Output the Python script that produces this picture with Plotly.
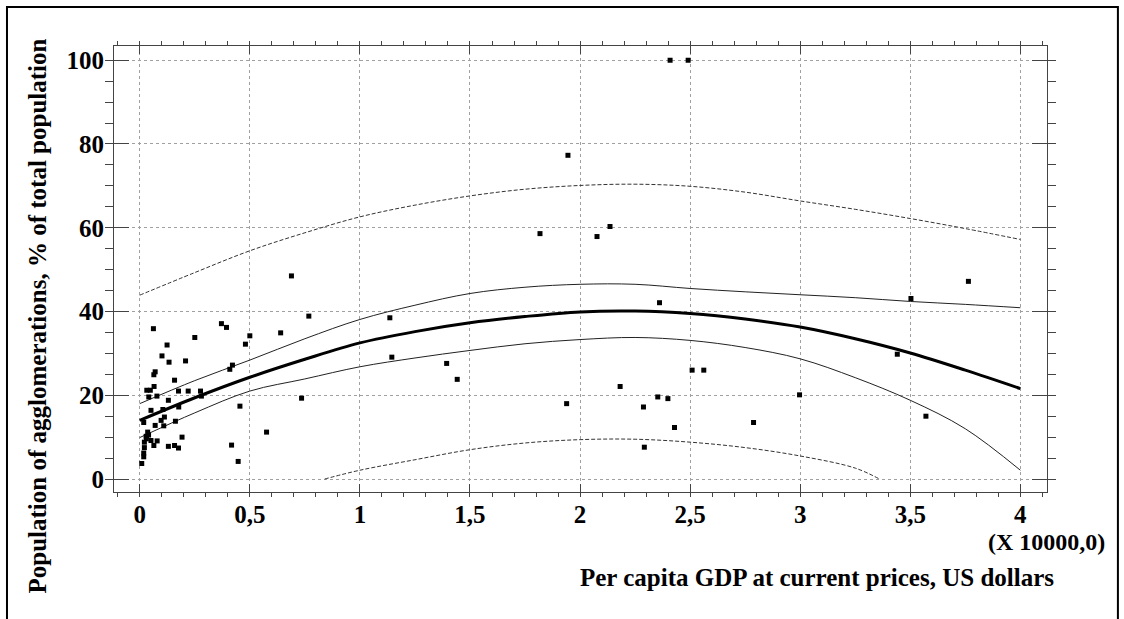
import plotly.graph_objects as go

# scatter points (GDP in units of 10000 USD, % of population)
gdp = [0.062, 0.124, 0.101, 0.133, 0.208, 0.070, 0.064, 0.158, 0.065, 0.032,
       0.048, 0.176, 0.041, 0.078, 0.130, 0.177, 0.051, 0.105, 0.112, 0.097,
       0.018, 0.162, 0.070, 0.109, 0.036, 0.029, 0.040, 0.030, 0.021, 0.051,
       0.079, 0.064, 0.192, 0.130, 0.158, 0.176, 0.021, 0.018, 0.018, 0.009,
       0.371, 0.394, 0.250, 0.500, 0.480, 0.421, 0.409, 0.220, 0.276, 0.280,
       0.455, 0.417, 0.447, 0.689, 0.768, 0.640, 0.735, 0.576,
       1.136, 1.145, 1.394, 1.442, 1.939,
       1.945, 1.818, 2.077, 2.136, 2.409, 2.491, 2.361, 2.182, 2.509, 2.562,
       2.353, 2.399, 2.288, 2.429, 2.997, 2.788, 2.292,
       3.764, 3.503, 3.441, 3.571]
share = [35.9, 32.0, 29.4, 27.9, 28.2, 25.6, 24.9, 23.6, 22.1, 21.2,
         21.2, 21.0, 19.6, 19.8, 18.8, 17.2, 16.4, 16.6, 14.8, 14.0,
         13.5, 13.8, 12.8, 12.7, 11.2, 10.2, 10.5, 9.6, 8.8, 9.2,
         9.1, 8.0, 10.0, 7.8, 8.0, 7.4, 7.5, 6.2, 5.3, 3.7,
         37.1, 36.2, 33.8, 34.2, 32.2, 27.2, 26.2, 21.0, 21.0, 19.8,
         17.4, 8.1, 4.2, 48.5, 38.9, 34.9, 19.3, 11.2,
         38.5, 29.1, 27.6, 23.8, 18.0,
         77.3, 58.6, 57.9, 60.3, 100.0, 100.0, 42.1, 22.1, 26.0, 26.0,
         19.6, 19.2, 17.2, 12.3, 20.1, 13.5, 7.6,
         47.2, 43.1, 29.8, 15.0]

# fitted curve and bands
curve_x = [0, 0.25, 0.5, 0.75, 1.0, 1.25, 1.5, 1.75, 2.0, 2.25, 2.5, 2.75,
           3.0, 3.25, 3.5, 3.75, 4.0]
fit_y = [14.0, 19.4, 24.3, 28.6, 32.5, 35.2, 37.3, 38.8, 39.9, 40.1, 39.5,
         38.2, 36.3, 33.5, 30.1, 26.0, 21.6]
conf_hi = [18.0, 23.5, 28.4, 33.5, 38.1, 41.5, 44.3, 45.8, 46.5, 46.5, 45.5,
           44.7, 44.0, 43.3, 42.4, 41.7, 40.9]
conf_lo = [9.9, 15.8, 21.0, 23.9, 26.8, 28.9, 30.7, 32.3, 33.3, 33.8, 33.1,
           31.4, 28.7, 24.2, 18.8, 12.0, 2.1]
pred_hi = [43.9, 49.3, 54.5, 58.8, 62.6, 65.4, 67.6, 69.2, 70.1, 70.4, 69.9,
           68.5, 66.4, 64.4, 62.2, 59.8, 57.2]
pred_lo_x = [0.84, 1.0, 1.25, 1.5, 1.75, 2.0, 2.25, 2.5, 2.75, 3.0, 3.25, 3.36]
pred_lo = [0.0, 2.1, 4.6, 7.0, 8.6, 9.4, 9.5, 8.8, 7.5, 5.5, 2.6, 0.0]

x_ticks = [0, 0.5, 1, 1.5, 2, 2.5, 3, 3.5, 4]
x_labels = ['0', '0,5', '1', '1,5', '2', '2,5', '3', '3,5', '4']
y_ticks = [0, 20, 40, 60, 80, 100]
y_labels = ['0', '20', '40', '60', '80', '100']

font = dict(family='Liberation Serif', size=25, color='black', weight='bold')
scale_font = dict(family='Liberation Serif', size=24, color='black', weight='bold')

fig = go.Figure()
fig.add_trace(go.Scatter(x=curve_x, y=pred_hi, mode='lines', line_shape='spline',
                         line=dict(color='#333', width=1, dash='4px,2px')))
fig.add_trace(go.Scatter(x=pred_lo_x, y=pred_lo, mode='lines', line_shape='spline',
                         line=dict(color='#333', width=1, dash='4px,2px')))
fig.add_trace(go.Scatter(x=curve_x, y=conf_hi, mode='lines', line_shape='spline',
                         line=dict(color='#222', width=1)))
fig.add_trace(go.Scatter(x=curve_x, y=conf_lo, mode='lines', line_shape='spline',
                         line=dict(color='#222', width=1)))
fig.add_trace(go.Scatter(x=curve_x, y=fit_y, mode='lines', line_shape='spline',
                         line=dict(color='black', width=3)))
fig.add_trace(go.Scatter(x=gdp, y=share, mode='markers',
                         marker=dict(symbol='square', size=5, color='black')))

axis_common = dict(showline=True, linecolor='#444', linewidth=1, mirror='allticks',
                   ticks='inside', tickcolor='#444', zeroline=False,
                   showgrid=True, gridcolor='#a0a0a0', griddash='3px,3px', gridwidth=1,
                   tickfont=font)

fig.update_xaxes(range=[-0.117, 4.121], tickvals=x_ticks, ticktext=x_labels,
                 ticklen=8, ticklabelstandoff=0,
                 minor=dict(dtick=0.1, ticklen=4, tickcolor='#444', showgrid=False),
                 **axis_common)
fig.update_yaxes(range=[-3.1, 103.4], tickvals=y_ticks, ticktext=y_labels,
                 ticklen=15, ticklabelstandoff=4,
                 minor=dict(dtick=5, ticklen=8, tickcolor='#444', showgrid=False),
                 **axis_common)

fig.update_layout(
    width=1124, height=619,
    margin=dict(l=114, r=77, t=46, b=127),
    paper_bgcolor='white', plot_bgcolor='white',
    showlegend=False,
    shapes=[dict(type='rect', xref='paper', yref='paper',
                 x0=-0.1147, x1=1.076, y0=-0.3, y1=1.0874,
                 line=dict(color='black', width=2))],
    annotations=[
        dict(text='(X 10000,0)', xref='paper', yref='paper', x=1.0643, y=-0.1110,
             xanchor='right', yanchor='middle', showarrow=False, font=scale_font),
        dict(text='Per capita GDP at current prices, US dollars', xref='paper', yref='paper',
             x=1.0096, y=-0.1906, xanchor='right', yanchor='middle', showarrow=False,
             font=font),
        dict(text='Population of agglomerations, % of total population', xref='paper',
             yref='paper', x=-0.0815, y=0.3957, textangle=-90, xanchor='center',
             yanchor='middle', showarrow=False, font=font),
    ],
)

fig.write_html('out.html', config={'displayModeBar': False},
               post_script="document.body.style.margin='0px';")
